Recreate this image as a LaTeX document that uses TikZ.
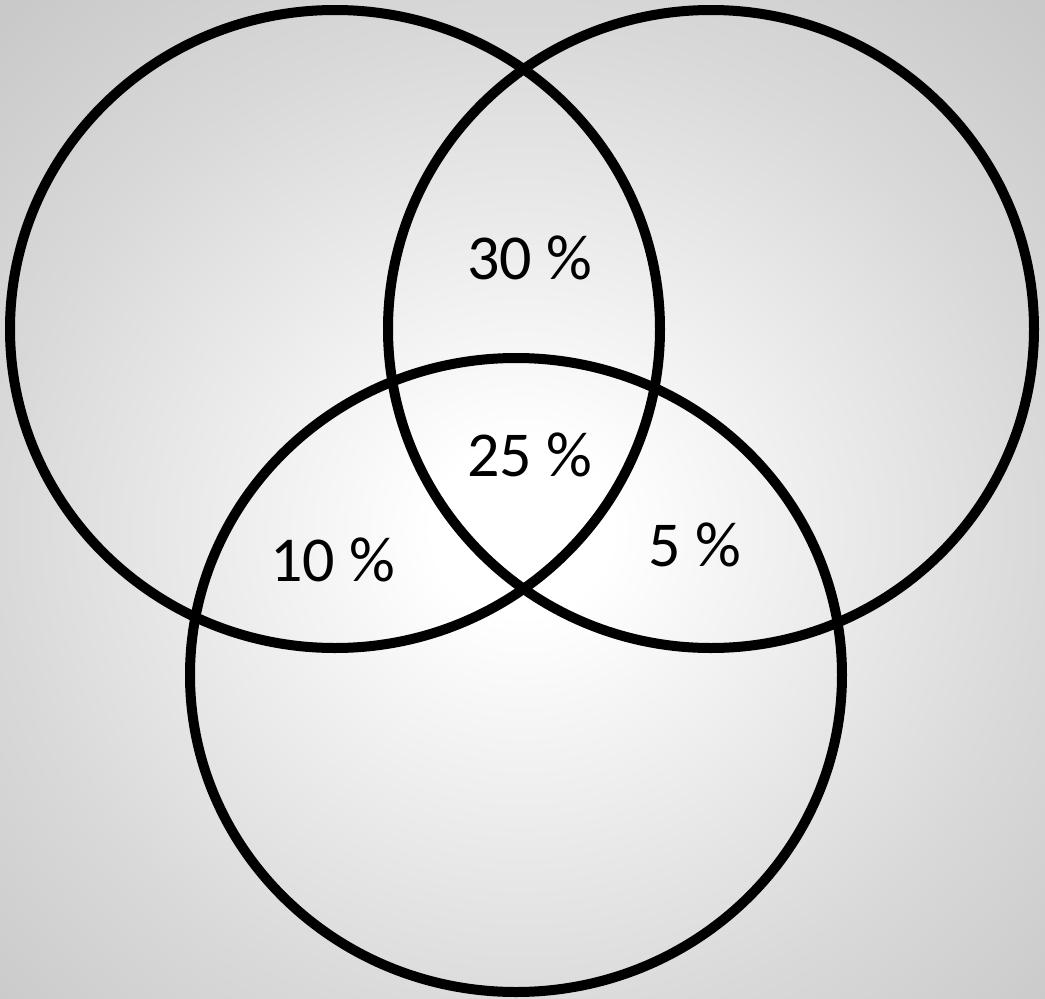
\documentclass[tikz,border=0pt]{standalone}
\usepackage{fontspec}
\setmainfont{Carlito}
\pgfdeclareradialshading{bgshade}{\pgfpoint{0bp}{0bp}}{color(0bp)=(white); color(3bp)=(white); color(17.7bp)=(black!15); color(25bp)=(black!21); color(50bp)=(black!21)}
\begin{document}
\begin{tikzpicture}[x=1pt,y=-1pt,
  ring/.style={draw=black,line width=10pt},
  pct/.style={font=\fontsize{64}{70}\selectfont,inner sep=0pt,anchor=center}]
\useasboundingbox (0,0) rectangle (1045,999);
\begin{scope}
\clip (0,0) rectangle (1045,999);
\shade[shading=bgshade] (522-739,530-706) rectangle (522+739,530+706);
\end{scope}
\draw[ring] (335,329) ellipse [x radius=325, y radius=319];
\draw[ring] (711,329) ellipse [x radius=323, y radius=319];
\draw[ring] (516,675) ellipse [x radius=326, y radius=317];
\node[pct] (a) at (530,258) {30 \%};
\node[pct] (b) at (530,455) {25 \%};
\node[pct] (c) at (333,560) {10 \%};
\node[pct] (d) at (695,545) {5 \%};
\end{tikzpicture}
\end{document}
